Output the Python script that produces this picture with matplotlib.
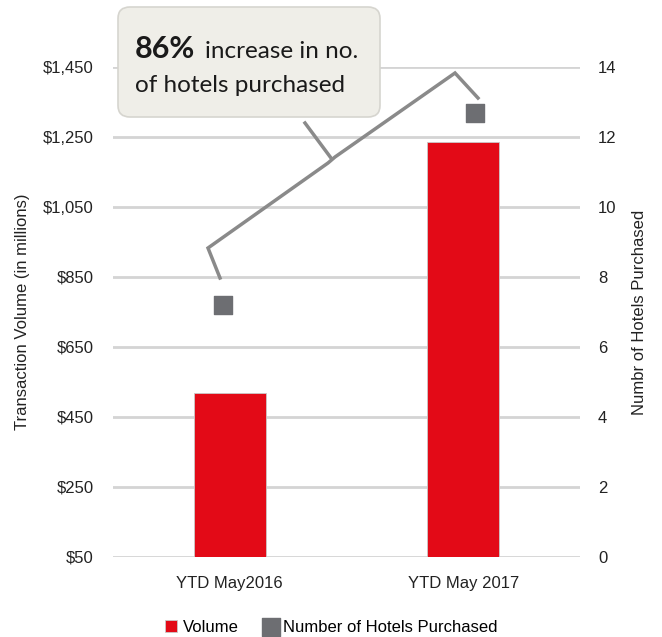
import matplotlib.pyplot as plt
import numpy as np
from matplotlib.patches import FancyBboxPatch
from matplotlib.lines import Line2D

periods = ["YTD May2016", "YTD May 2017"]
volume = [520, 1235]          # transaction volume, $ millions
hotels = [7.2, 12.7]          # number of hotels purchased
hotel_x = [-0.03, 1.05]       # marker positions along the category axis

vol_ticks = [50, 250, 450, 650, 850, 1050, 1250, 1450]
hotel_ticks = [0, 2, 4, 6, 8, 10, 12, 14]

red = "#e30a17"
grey = "#6d6e72"
grid = "#d4d4d4"

plt.rcParams["font.family"] = ["Liberation Sans", "DejaVu Sans"]

W, H = 662, 637
fig = plt.figure(figsize=(W / 100, H / 100), dpi=100)
ax = fig.add_axes([113 / W, 1 - 557 / H, (580 - 113) / W, (557 - 67) / H])
ax2 = ax.twinx()

x = np.arange(len(periods))
bars = ax.bar(x, volume, width=0.31, color=red, edgecolor="#c9c9c9",
              linewidth=0.6, zorder=3, label="Volume")
ax.set_xlim(-0.5, 1.5)
ax.set_ylim(50, 1450)
ax.set_yticks(vol_ticks)
ax.set_yticklabels(["${:,}".format(v) for v in vol_ticks])
ax.yaxis.grid(True, color=grid, linewidth=2, zorder=0)
ax.set_axisbelow(True)
ax.set_xticks(x)
ax.set_xticklabels(periods)
ax.tick_params(axis="y", length=0, pad=14, labelsize=12, colors="#222222")
ax.tick_params(axis="x", length=0, pad=14, labelsize=12, colors="#222222")
ax.set_ylabel("Transaction Volume (in millions)", fontsize=12, color="#222222",
              labelpad=9)
for s in ax.spines.values():
    s.set_visible(False)

pts = ax2.scatter(hotel_x, hotels, marker="s", s=150, color=grey, zorder=4,
                  label="Number of Hotels Purchased")
ax2.set_ylim(0, 14)
ax2.set_yticks(hotel_ticks)
ax2.tick_params(axis="y", length=0, pad=13, labelsize=12, colors="#222222")
ax2.set_ylabel("Numbr of Hotels Purchased", fontsize=12, color="#222222",
               labelpad=11)
for s in ax2.spines.values():
    s.set_visible(False)

leg = fig.legend([bars, pts], ["Volume", "Number of Hotels Purchased"],
                 loc="lower center", bbox_to_anchor=(0.5, -0.02), ncol=2,
                 frameon=False, fontsize=12, handlelength=0.7,
                 handleheight=0.7, handletextpad=0.35, columnspacing=1.6)


def fx(px):
    return px / W


def fy(py):
    return 1 - py / H


# brace linking the two hotel counts
arm = [(220, 278), (208, 248), (328, 163), (335, 157), (455, 73), (478, 98)]
stem = [(331, 158), (305, 123)]
for path in (arm, stem):
    fig.add_artist(Line2D([fx(p[0]) for p in path], [fy(p[1]) for p in path],
                          color="#8a8a8a", lw=2.5, solid_joinstyle="miter",
                          transform=fig.transFigure))

# callout box
box = FancyBboxPatch((fx(118), fy(117)), fx(380) - fx(118), fy(7) - fy(117),
                     boxstyle="round,pad=0,rounding_size=0.018",
                     transform=fig.transFigure, facecolor="#efeee8",
                     edgecolor="#d6d5cf", linewidth=1.2, zorder=10)
fig.add_artist(box)
t1 = fig.text(fx(135), fy(58), "86%", fontsize=22, fontweight="bold",
              family="Lato", color="#1a1a1a", zorder=11)
fig.canvas.draw()
bb = t1.get_window_extent()
fig.text(bb.x1 / W + 10 / W, fy(58), "increase in no.", fontsize=17.5,
         family="Lato", color="#1a1a1a", zorder=11)
fig.text(fx(135), fy(92), "of hotels purchased", fontsize=17.5,
         family="Lato", color="#1a1a1a", zorder=11)

fig.savefig("out.png", dpi=100)
